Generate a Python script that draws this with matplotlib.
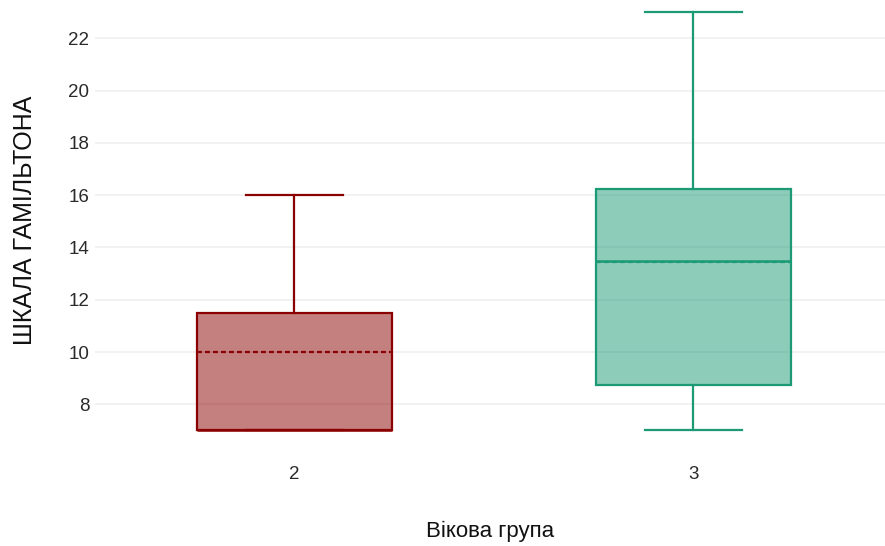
import matplotlib.pyplot as plt
from matplotlib.colors import to_rgba

# age groups and the summary of the Hamilton scale in each
groups = ['2', '3']
whislo = [7, 7]
q1 = [7, 8.75]
med = [7, 13.5]
mean = [10, 13.45]
q3 = [11.5, 16.25]
whishi = [16, 23]
colors = ['#8b0000', '#1b9a75']

plt.rcParams['font.family'] = ['Liberation Sans', 'DejaVu Sans']

fig = plt.figure(figsize=(8.85, 5.46), dpi=100)
ax = fig.add_axes([95 / 885, 1 - 455 / 546, 790 / 885, 455 / 546])

for i, g in enumerate(groups):
    c = colors[i]
    s = dict(label=g, whislo=whislo[i], q1=q1[i], med=med[i],
             mean=mean[i], q3=q3[i], whishi=whishi[i], fliers=[])
    ax.bxp([s], positions=[i], widths=0.49, patch_artist=True,
           showmeans=True, meanline=True, capwidths=0.245,
           boxprops=dict(facecolor=to_rgba(c, 0.5), edgecolor=c, linewidth=1.6),
           medianprops=dict(color=c, linewidth=1.8),
           meanprops=dict(color=c, linewidth=1.6, linestyle=(0, (2.2, 1.4))),
           whiskerprops=dict(color=c, linewidth=1.6),
           capprops=dict(color=c, linewidth=1.6),
           manage_ticks=False, zorder=3)

ax.set_xlim(-0.5, 1.48)
ax.set_ylim(6.06, 23.47)
ax.set_xticks(range(len(groups)))
ax.set_xticklabels(groups)
ax.set_yticks([8, 10, 12, 14, 16, 18, 20, 22])
ax.grid(axis='y', color='#efefef', linewidth=1.1, zorder=0)
ax.set_axisbelow(True)
for sp in ax.spines.values():
    sp.set_visible(False)
ax.tick_params(length=0, labelsize=13.5, colors='#2a2a2a', pad=8)
ax.tick_params(axis='y', pad=4)

fig.text(25 / 885, 1 - 220 / 546, 'ШКАЛА ГАМІЛЬТОНА', rotation=90,
         ha='center', va='center', fontsize=18, color='#111')
fig.text(490 / 885, 1 - 531 / 546, 'Вікова група',
         ha='center', va='center', fontsize=16, color='#111')

fig.savefig('out.png', dpi=100)
